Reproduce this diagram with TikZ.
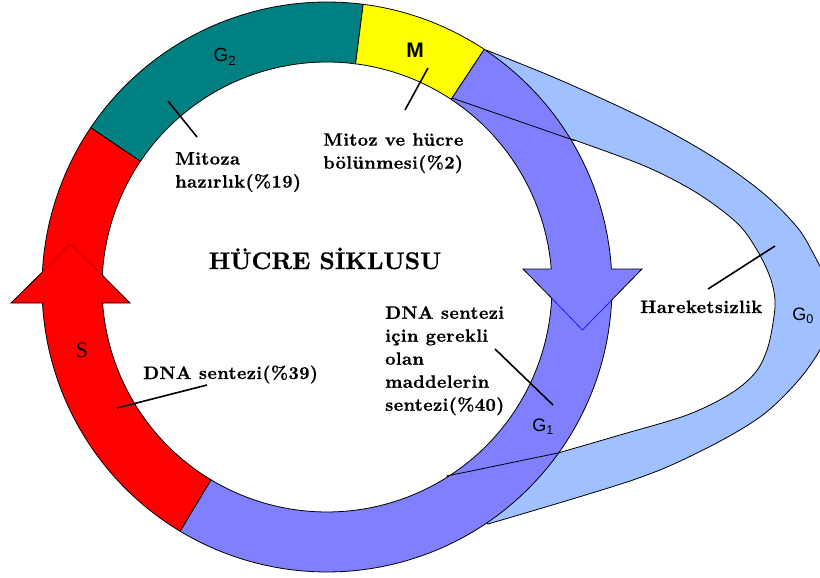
\documentclass[tikz,border=0pt]{standalone}
\usepackage{fontspec}
\newfontfamily\arialf{Liberation Sans}
\newfontfamily\timesf{Liberation Serif}
\newfontfamily\lblfont{lmroman10-bold}[Extension=.otf,FakeBold=0.6,LetterSpace=2]
\newfontfamily\titlefont{lmroman10-bold}[Extension=.otf,FakeBold=0.8]
\definecolor{gteal}{RGB}{0,128,128}
\definecolor{gyellow}{RGB}{255,255,0}
\definecolor{gred}{RGB}{255,0,0}
\definecolor{gblue}{RGB}{128,128,255}
\definecolor{glight}{RGB}{160,192,255}
\definecolor{darkred}{RGB}{170,0,0}
\newcommand\ringseg[3]{%
  \filldraw[ringline,fill=#3] plot[domain=#1:#2,samples=90] ({327+285*cos(\x)},{287+285*sin(\x)})
    -- plot[domain=#2:#1,samples=90] ({327+225*cos(\x)},{287+225*sin(\x)}) -- cycle;}
\begin{document}
\begin{tikzpicture}[x=1pt,y=-1pt,
  ringline/.style={draw=black,line width=0.8pt},
  leader/.style={draw=black,line width=1.6pt},
  lbl/.style={inner sep=0pt,align=left,font=\lblfont\fontsize{18}{23}\selectfont},
  glbl/.style={inner sep=0pt,font=\arialf\fontsize{18}{20}\selectfont}]
\useasboundingbox (0,0) rectangle (820,578);
\clip (0,0) rectangle (820,578);
\fill[white] (0,0) rectangle (820,578);
% G0 band
\filldraw[ringline,fill=glight]
  plot[smooth,tension=0.55] coordinates {(486,50) (560,80) (647,120) (713,157) (763,193) (797,227) (813,253) (827,282) (831,306) (827,330) (820,350) (797,382) (760,417) (703,450) (633,480) (488,524)}
  -- (447,476)
  -- plot[smooth,tension=0.55] coordinates {(558,453) (620,435) (687,415) (730,394) (755,373) (767,350) (773,323) (775,300) (770,277) (757,250) (737,223) (697,193) (647,167) (580,142) (573,140)}
  -- (452,98) -- cycle;
% ring segments
\ringseg{121}{214}{gred}
\ringseg{214}{277.3}{gteal}
\ringseg{277.3}{303.5}{gyellow}
\ringseg{303.5}{481}{gblue}
% red arrowhead
\fill[gred] (11,303) -- (70,244) -- (130,303) -- cycle;
\draw[ringline] (42.2,272.2) -- (11,303) -- (42.5,303);
\draw[ringline] (102.2,275) -- (130,303) -- (102.6,303);
\draw[darkred,line width=0.5pt] (42.2,272.2) -- (70,244) -- (102.2,275);
% blue arrowhead
\fill[gblue] (523,269) -- (582.5,330) -- (642,269) -- cycle;
\draw[ringline] (551.5,298) -- (523,269) -- (551.3,269);
\draw[ringline] (611.7,300) -- (642,269) -- (611.4,269);
\draw[blue,line width=0.6pt] (551.5,298) -- (582.5,330) -- (611.7,300);
% G0 band edges across the G1 ring
\coordinate (b1) at (452,98);
\coordinate (b2) at (573,140);
\coordinate (b3) at (447,476);
\coordinate (b4) at (558,453);
\draw[ringline] (b1) -- (b2);
\draw[ringline] (b3) -- (b4);
% phase labels
\node[glbl,font=\arialf\fontsize{19}{20}\selectfont] (G2) at (225,57) {G\textsubscript{2}};
\node[glbl,font=\arialf\bfseries\fontsize{21}{22}\selectfont] (M) at (415,50) {M};
\node[inner sep=0pt,font=\timesf\fontsize{22}{24}\selectfont] (S) at (82,350) {S};
\node[glbl] (G1) at (543,427) {G\textsubscript{1}};
\node[glbl] (G0) at (803,316) {G\textsubscript{0}};
% title
\node[inner sep=0pt,font=\titlefont\fontsize{24}{26}\selectfont,anchor=base] (title) at (325,269) {HÜCRE SİKLUSU};
% descriptions
\node[lbl,anchor=north west] (tG2) at (175,152) {Mitoza\\hazırlık(\%19)};
\node[lbl,anchor=north west] (tM) at (323,133) {Mitoz ve hücre\\bölünmesi(\%2)};
\node[lbl,anchor=north west] (tG1) at (385,306) {DNA sentezi\\için gerekli\\olan\\maddelerin\\sentezi(\%40)};
\node[lbl,anchor=base west] (tS) at (143,379) {DNA sentezi(\%39)};
\node[lbl,anchor=base west] (tG0) at (640,313) {Hareketsizlik};
% leader lines
\coordinate (l1a) at (168,101); \coordinate (l1b) at (197,137);
\coordinate (l2a) at (428,68);  \coordinate (l2b) at (405,110);
\coordinate (l3a) at (207,385); \coordinate (l3b) at (117,408);
\coordinate (l4a) at (495,349); \coordinate (l4b) at (553,405);
\coordinate (l5a) at (775,246); \coordinate (l5b) at (708,289);
\draw[leader] (l1a) -- (l1b);
\draw[leader] (l2a) -- (l2b);
\draw[leader] (l3a) -- (l3b);
\draw[leader] (l4a) -- (l4b);
\draw[leader] (l5a) -- (l5b);
\end{tikzpicture}
\end{document}
